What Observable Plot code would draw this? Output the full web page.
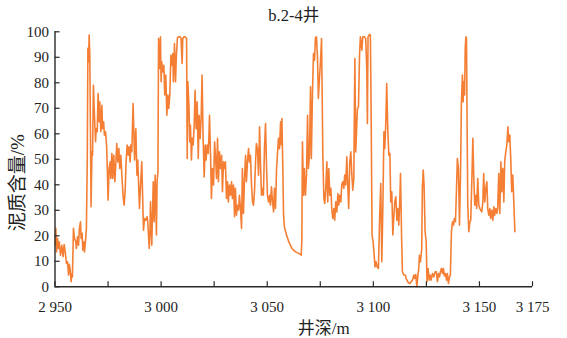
<!DOCTYPE html>
<html><head><meta charset="utf-8">
<script src="https://cdn.jsdelivr.net/npm/d3@7"></script>
<script src="https://cdn.jsdelivr.net/npm/@observablehq/plot@0.6"></script>
<style>html,body{margin:0;padding:0;background:#fff;} #chart{width:567px;height:338px;}</style>
</head><body><div id="chart"></div>
<script>
const depth = [
2950.1,2950.4,2950.7,2951.2,2951.6,2952.0,2952.6,2953.2,2953.8,2954.3,2954.8,2955.4,2955.9,2956.4,2956.7,2957.1,2957.6,2957.9,2958.2,2958.7,
2959.2,2959.8,2960.1,2960.6,2961.1,2961.5,2962.0,2962.3,2962.8,2963.1,2963.6,2963.9,2964.4,2964.8,2965.2,2965.5,2965.8,2966.1,2966.4,2966.7,
2967.0,2967.4,2967.7,2968.1,2968.6,2969.1,2969.4,2969.9,2970.3,2970.8,2971.1,2971.6,2972.1,2972.4,2972.9,2973.3,2973.8,2974.3,2974.7,2975.0,
2975.5,2976.0,2976.3,2976.8,2977.2,2977.7,2978.2,2978.7,2979.1,2979.6,2980.1,2980.5,2981.0,2981.5,2982.1,2982.6,2983.1,2983.5,2984.0,2984.5,
2984.9,2985.4,2985.7,2986.2,2986.8,2987.5,2988.1,2988.6,2989.0,2989.8,2990.3,2990.9,2991.2,2991.7,2992.2,2992.8,2993.4,2993.7,2994.4,2994.7,
2995.0,2995.6,2996.3,2996.7,2997.2,2997.8,2998.1,2998.5,2998.8,2999.2,2999.7,3000.0,3000.3,3000.8,3001.3,3001.7,3002.2,3002.7,3003.2,3003.6,
3004.1,3004.6,3005.0,3005.5,3005.8,3006.3,3006.8,3007.2,3007.7,3008.2,3009.0,3009.4,3009.9,3010.2,3010.7,3011.3,3012.0,3012.3,3012.6,3013.1,
3013.5,3013.8,3014.3,3014.6,3015.1,3015.6,3016.0,3016.5,3017.0,3017.5,3017.9,3018.4,3018.9,3019.3,3019.8,3020.3,3020.8,3021.2,3021.7,3022.2,
3022.5,3022.8,3023.3,3023.7,3024.2,3024.7,3025.2,3025.6,3026.1,3026.6,3027.0,3027.5,3028.0,3028.5,3028.9,3029.4,3029.9,3030.3,3030.8,3031.3,
3031.7,3032.2,3032.7,3033.2,3033.6,3034.1,3034.6,3035.0,3035.5,3036.0,3036.5,3036.9,3037.4,3037.9,3038.3,3038.8,3039.3,3039.8,3040.2,3040.7,
3041.2,3041.6,3042.1,3042.6,3043.1,3043.5,3044.0,3044.5,3044.9,3045.4,3045.9,3046.4,3046.8,3047.3,3047.8,3048.2,3048.7,3049.2,3049.7,3050.1,
3050.6,3051.1,3051.5,3052.0,3052.5,3053.0,3053.4,3053.9,3054.4,3054.8,3055.3,3055.8,3056.3,3056.7,3056.9,3057.3,3057.7,3058.1,3059.1,3060.2,
3061.7,3063.3,3064.9,3066.0,3066.3,3066.6,3067.1,3067.5,3068.0,3068.5,3069.0,3069.4,3069.9,3070.4,3070.8,3071.3,3071.8,3072.3,3072.7,3073.2,
3073.7,3074.1,3074.6,3075.1,3075.6,3075.9,3076.2,3076.7,3077.1,3077.6,3078.1,3078.5,3079.0,3079.5,3080.0,3080.4,3080.9,3081.4,3081.8,3082.3,
3082.8,3083.3,3083.7,3084.2,3084.7,3085.1,3085.6,3086.1,3086.5,3087.0,3087.5,3088.0,3088.4,3088.9,3089.4,3089.8,3090.3,3090.8,3091.3,3091.7,
3092.5,3093.0,3093.5,3093.9,3094.6,3095.0,3095.8,3096.4,3096.9,3097.2,3097.5,3098.2,3098.6,3098.9,3099.4,3099.9,3100.4,3100.8,3101.3,3101.8,
3102.4,3103.0,3103.5,3104.0,3104.5,3105.0,3105.4,3105.9,3106.3,3106.8,3107.3,3107.8,3108.2,3108.7,3109.2,3109.6,3110.1,3110.6,3111.1,3111.5,
3112.0,3112.5,3112.8,3113.3,3113.7,3114.4,3115.0,3115.6,3116.4,3117.2,3117.8,3118.4,3119.1,3119.5,3120.0,3120.5,3121.0,3121.4,3121.7,3122.2,
3122.8,3123.1,3123.5,3123.9,3124.4,3124.9,3125.3,3125.8,3126.3,3126.8,3127.2,3127.9,3128.5,3129.1,3129.7,3130.2,3130.7,3131.2,3131.6,3132.1,
3132.6,3133.0,3133.5,3134.0,3134.5,3134.9,3135.4,3135.9,3136.3,3136.8,3137.3,3137.8,3138.2,3138.7,3139.2,3139.6,3140.1,3140.6,3141.1,3141.5,
3142.0,3142.3,3142.6,3143.0,3143.3,3143.6,3143.9,3144.2,3144.5,3145.0,3145.5,3145.9,3146.4,3146.9,3147.3,3147.8,3148.3,3148.7,3149.2,3149.7,
3150.2,3150.6,3151.1,3151.6,3152.0,3152.5,3153.0,3153.5,3153.9,3154.4,3154.9,3155.3,3155.8,3156.3,3156.8,3157.2,3157.7,3158.2,3158.6,3159.1,
3159.6,3160.1,3160.5,3161.0,3161.5,3161.9,3162.4,3162.9,3163.4,3163.8,3164.3,3164.8,3165.2,3165.7,3166.2,3166.7
];
const clay = [
16.3,22.9,13.7,19,15,17.6,12.4,16.3,11.8,16.6,13.7,9.2,9.8,4.6,8.8,7.2,2,5.2,3.9,22.9,
19,17.6,15,19.6,16.3,22.9,25.5,19,21,14.4,17.6,13.7,18.3,22.9,49,93.5,88.2,98.7,90.8,62,
31.4,53,51.6,79,67.3,56.9,62,60.8,75.8,64.7,72.5,60.8,71.2,62,64.7,59.5,60.8,55.6,45.1,34,
46.4,49,42.5,52.3,42.5,51.6,41.2,49,56.2,49,54.2,46.4,51.6,43.8,35.3,32,38.6,49,55.6,51.6,
54.9,49,55.6,53,71.9,49.7,62,43.8,49.7,30.7,39.9,49,38.6,22.2,26.8,26.1,27.5,25.5,15,20.3,
33.3,16.3,41.2,25.5,43.8,20.3,41.2,45,97.4,85.6,98,80.4,88.2,84.3,86.9,75.2,83,67.3,75.2,69.9,
75.2,90.8,86.9,91.5,80.4,95.4,80.4,90.8,97.6,98,98,97.4,87.6,97.4,98,98,97.4,50.3,80.4,71.2,
56.9,63.4,49.7,58.2,55.6,63.4,77.1,62,72.5,50.3,67.3,58.2,67.3,83,58.2,43.1,55.6,49.7,55.6,52.3,
58.2,67.3,51.6,34.6,46.4,39.9,56.9,51.6,42.5,58.2,41.2,52.9,46.4,51.6,37.3,49,46.4,49,34.6,41.2,
33.3,39.9,35.9,41.2,34.6,39.9,27.5,38.6,28.1,32,30.1,35.9,30.7,22.9,46.4,28.8,42.5,51.6,41.2,49,
54.2,49,51.6,39.9,33.3,32,37.3,49,56.2,54.2,43.8,62.7,49,35.9,38.6,35.9,54.2,64,46.4,35.9,
33.3,35.9,32,39.2,33.3,29.4,38.6,30.7,46.4,51.6,58.2,54.2,64.7,55.6,66,49,28.1,23.5,20.3,17.6,
15,13.7,13.1,12.4,17.6,56.9,35.9,46.4,35.9,43.8,67.3,46.4,51.6,78.4,50.3,75.2,91.5,88.9,97.6,98,
89.5,73.9,81.7,88.2,97.4,75.2,51.6,34.6,32.7,38.6,49,33.3,46.4,35.9,38.6,30.7,26.8,30.7,26.1,33.3,
29.4,36.6,32,35.9,33.3,39.9,41.2,38.6,43.8,39.9,51,38.6,30.7,49,52.9,45.1,37.9,42.5,89.5,52.9,
69.9,70.6,90.8,98,92.8,98,98,97.4,85.6,64,98,99,98.7,75.2,20.3,17.6,12.4,7.8,9.8,7.8,
7.2,28.1,40.5,9.8,32,60.8,54.2,64.7,79.7,62,51.6,52.3,33.3,37.3,20.3,26.8,33.3,35.3,26.1,30.7,
24.2,34.6,44.4,20.3,5.9,4.6,4.6,3,1.7,1.3,2,2.6,4.6,3.3,4.8,0,4.6,7.2,12.4,9.8,
15,38.6,45.8,39.9,21.6,17.6,2,7.2,2.6,4.6,2.6,5.2,3.9,5.9,5.9,2,5.2,3.9,5.9,7.2,
5.2,7.2,4.3,5.2,2.6,5.2,1.3,3.9,4.6,21.6,25.5,24.2,26.8,25.5,38.6,50.3,46.4,24.2,45.1,72.5,
83,72.5,80.4,75.2,93.5,98,97.4,62,32,21.6,25.5,26.1,41.2,58.2,43.8,32,35.9,30.7,42.5,32,
30.7,30.1,29.4,33.3,44.4,33.3,38.6,41.2,30.7,28.1,30.7,26.8,30.1,26.1,31.4,28.1,30.7,28.8,30.7,44.4,
28.8,49,37.3,46.4,33.3,49,52.9,55.6,62.7,56.9,59.5,49,37.3,43.8,33.3,21.6
];
const xTicks = [2950,2975,3000,3025,3050,3075,3100,3125,3150,3175];
const xLabels = [2950,3000,3050,3100,3150,3175];
const yTicks = [0,10,20,30,40,50,60,70,80,90,100];
const title = "b.2-4井";
const xTitle = "井深/m";
const yTitle = "泥质含量/%";

const data = depth.map((d, i) => ({depth: d, clay: clay[i]}));
const fmt = d => { const s = String(d); return s.slice(0, 1) + " " + s.slice(1); };
const serif = '"Liberation Serif","Noto Sans CJK SC",serif';
const axisColor = "#2a2a2a";
const textColor = "#222";

const chart = Plot.plot({
  width: 567, height: 338,
  marginLeft: 54.5, marginRight: 35, marginTop: 31.3, marginBottom: 51.7,
  x: {domain: [2950, 3175], axis: null},
  y: {domain: [0, 100], axis: null},
  style: {fontFamily: serif, background: "#fff", color: textColor},
  marks: [
    Plot.line(data, {x: "depth", y: "clay", stroke: "#f47f34", strokeWidth: 1.6, strokeLinejoin: "round"}),
    Plot.ruleY([0], {x1: 2950, x2: 3175, stroke: axisColor, strokeWidth: 1.4}),
    Plot.ruleX([2950], {y1: 0, y2: 100, stroke: axisColor, strokeWidth: 1.4}),
    Plot.ruleX(xTicks, {x: d => d, y1: 0, y2: 2, stroke: axisColor, strokeWidth: 1.2}),
    Plot.ruleY(yTicks, {y: d => d, x1: 2950, x2: 2952.4, stroke: axisColor, strokeWidth: 1.2}),
    Plot.text(xLabels, {x: d => d, y: 0, text: fmt, dy: 25, lineAnchor: "bottom", fontSize: 15, fill: textColor}),
    Plot.text(yTicks, {x: 2950, y: d => d, text: d => String(d), textAnchor: "end", dx: -6, fontSize: 15, fill: textColor}),
    Plot.text([title], {frameAnchor: "top", dy: -11, lineAnchor: "bottom", fontSize: 16.5, fill: textColor}),
    Plot.text([xTitle], {frameAnchor: "bottom", dx: 30, dy: 47, lineAnchor: "bottom", fontSize: 17, fill: textColor}),
    Plot.text([yTitle], {frameAnchor: "left", rotate: -90, dx: -37, dy: 72, fontSize: 19, fill: textColor})
  ]
});
document.getElementById("chart").appendChild(chart);
</script>
</body></html>
